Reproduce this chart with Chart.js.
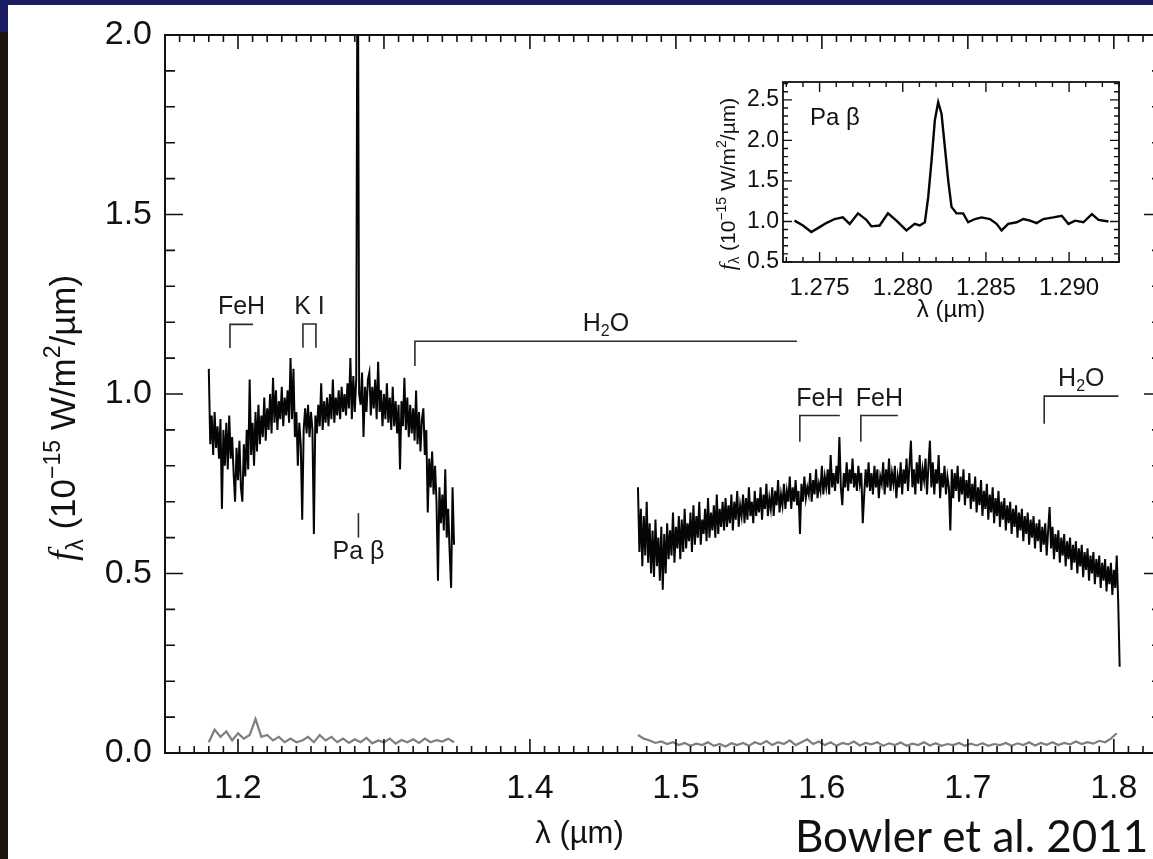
<!DOCTYPE html>
<html>
<head>
<meta charset="utf-8">
<script src="https://cdn.jsdelivr.net/npm/chart.js@4.4.1/dist/chart.umd.min.js"></script>
<style>
  html, body { margin: 0; padding: 0; background: #fff; overflow: hidden; width: 1153px; height: 859px; }
  #wrap { position: relative; width: 1153px; height: 859px; overflow: hidden; background: #fff; }
  #main { position: absolute; left: 0; top: 0; }
  #inset { position: absolute; left: 700px; top: 60px; }
  .bar { position: absolute; }
  #credit { position: absolute; left: 795px; top: 813px; font-family: Lato, "Open Sans", sans-serif;
            font-size: 44px; line-height: 1; color: #111; white-space: nowrap; }
</style>
</head>
<body>
<div id="wrap">
  <canvas id="main" width="1175" height="859"></canvas>
  <canvas id="inset" width="440" height="280"></canvas>
  <div class="bar" style="left:0;top:0;width:1153px;height:5px;background:#1b1c66"></div>
  <div class="bar" style="left:0;top:0;width:8px;height:32px;background:#1b1c66"></div>
  <div class="bar" style="left:0;top:32px;width:8px;height:827px;background:#1d1310"></div>
  <div id="credit">Bowler et al. 2011</div>
</div>
<script>
// ---------------- spectrum values (flux in 1e-15 W/m^2/um) ----------------
const jBandStart = 1.180;          // first J-band sample, um
const hBandStart = 1.474;          // first H-band sample, um
const fluxStep = 0.001;            // sampling of the flux arrays, um
const noiseStep = 0.004;           // sampling of the uncertainty arrays, um

const jBandFlux = [
  1.07, 0.86, 0.94, 0.83, 0.95, 0.85, 0.91, 0.82, 0.93, 0.68,
  0.90, 0.80, 0.92, 0.79, 0.94, 0.82, 0.88, 0.78, 0.70, 0.85,
  0.76, 0.87, 0.74, 0.70, 0.86, 0.77, 0.90, 0.79, 1.04, 0.83,
  0.92, 0.80, 0.95, 0.84, 0.97, 0.86, 0.94, 0.88, 0.99, 0.87,
  0.96, 0.90, 1.00, 0.89, 1.045, 0.92, 1.01, 0.90, 0.98, 0.93,
  1.02, 0.91, 0.99, 0.94, 1.01, 0.92, 1.10, 0.93, 1.07, 0.88,
  0.95, 0.80, 0.92, 0.86, 0.65, 0.90, 0.96, 0.89, 0.97, 0.88,
  0.95, 0.90, 0.61, 0.94, 0.89, 0.97, 0.91, 1.03, 0.90, 0.98,
  0.92, 0.99, 0.91, 1.00, 0.93, 1.04, 0.92, 0.99, 0.94, 1.01,
  0.93, 1.02, 0.95, 1.00, 0.94, 1.03, 0.96, 1.10, 0.93, 1.05,
  0.95, 1.04, 2.50, 1.00, 0.97, 1.06, 0.88, 1.02, 0.95, 1.04,
  1.06, 0.94, 1.02, 0.96, 1.04, 0.93, 1.09, 0.95, 1.01, 0.91,
  1.00, 0.93, 1.03, 0.92, 0.99, 0.90, 1.02, 0.91, 0.98, 0.89,
  0.97, 0.79, 0.98, 0.91, 1.045, 0.90, 0.99, 0.88, 0.97, 0.89,
  0.96, 0.87, 1.01, 0.86, 0.95, 0.84, 0.93, 0.96, 0.83, 0.90,
  0.67, 0.82, 0.74, 0.84, 0.72, 0.80, 0.70, 0.48, 0.74, 0.64,
  0.72, 0.62, 0.79, 0.60, 0.68, 0.56, 0.46, 0.74, 0.58
];

const hBandFlux = [
  0.74, 0.56, 0.68, 0.52, 0.66, 0.55, 0.70, 0.53, 0.64, 0.50,
  0.62, 0.49, 0.65, 0.52, 0.60, 0.48, 0.63, 0.455, 0.61, 0.50,
  0.64, 0.54, 0.62, 0.55, 0.67, 0.53, 0.63, 0.57, 0.66, 0.54,
  0.65, 0.56, 0.68, 0.57, 0.64, 0.59, 0.67, 0.56, 0.69, 0.58,
  0.66, 0.60, 0.70, 0.58, 0.65, 0.61, 0.68, 0.59, 0.71, 0.60,
  0.67, 0.62, 0.69, 0.60, 0.72, 0.61, 0.68, 0.63, 0.70, 0.62,
  0.71, 0.63, 0.69, 0.64, 0.72, 0.62, 0.70, 0.65, 0.73, 0.63,
  0.69, 0.66, 0.72, 0.64, 0.71, 0.65, 0.74, 0.66, 0.70, 0.64,
  0.73, 0.66, 0.71, 0.67, 0.74, 0.65, 0.72, 0.68, 0.75, 0.66,
  0.71, 0.68, 0.74, 0.66, 0.73, 0.69, 0.76, 0.67, 0.72, 0.69,
  0.75, 0.68, 0.73, 0.70, 0.77, 0.68, 0.74, 0.70, 0.76, 0.69,
  0.73, 0.61, 0.75, 0.70, 0.77, 0.71, 0.74, 0.72, 0.78, 0.70,
  0.76, 0.72, 0.79, 0.71, 0.75, 0.73, 0.80, 0.72, 0.77, 0.74,
  0.79, 0.72, 0.83, 0.74, 0.78, 0.73, 0.80, 0.75, 0.88, 0.74,
  0.69, 0.78, 0.74, 0.81, 0.73, 0.79, 0.75, 0.82, 0.74, 0.78,
  0.73, 0.80, 0.75, 0.78, 0.64, 0.72, 0.79, 0.74, 0.81, 0.73,
  0.78, 0.72, 0.80, 0.74, 0.79, 0.71, 0.77, 0.75, 0.81, 0.72,
  0.79, 0.74, 0.82, 0.73, 0.78, 0.75, 0.80, 0.71, 0.77, 0.74,
  0.81, 0.72, 0.79, 0.75, 0.82, 0.73, 0.80, 0.87, 0.74, 0.79,
  0.72, 0.81, 0.75, 0.83, 0.73, 0.79, 0.76, 0.82, 0.72, 0.80,
  0.87, 0.74, 0.81, 0.72, 0.79, 0.75, 0.83, 0.71, 0.78, 0.74,
  0.80, 0.72, 0.77, 0.74, 0.62, 0.79, 0.71, 0.78, 0.73, 0.80,
  0.70, 0.77, 0.72, 0.79, 0.69, 0.76, 0.71, 0.78, 0.68, 0.75,
  0.70, 0.77, 0.67, 0.74, 0.69, 0.76, 0.66, 0.73, 0.68, 0.75,
  0.65, 0.72, 0.67, 0.74, 0.64, 0.71, 0.66, 0.73, 0.63, 0.70,
  0.65, 0.71, 0.62, 0.69, 0.64, 0.70, 0.61, 0.68, 0.63, 0.69,
  0.60, 0.67, 0.62, 0.68, 0.59, 0.66, 0.61, 0.67, 0.58, 0.65,
  0.60, 0.66, 0.57, 0.64, 0.59, 0.65, 0.56, 0.63, 0.58, 0.64,
  0.55, 0.62, 0.685, 0.57, 0.63, 0.54, 0.61, 0.56, 0.62, 0.53,
  0.60, 0.55, 0.61, 0.52, 0.59, 0.54, 0.60, 0.51, 0.58, 0.53,
  0.59, 0.50, 0.57, 0.52, 0.58, 0.49, 0.56, 0.51, 0.57, 0.48,
  0.55, 0.50, 0.56, 0.47, 0.54, 0.49, 0.55, 0.46, 0.53, 0.48,
  0.54, 0.45, 0.52, 0.47, 0.53, 0.44, 0.51, 0.46, 0.55, 0.42,
  0.24
];

const jBandNoise = [
  0.030, 0.065, 0.045, 0.060, 0.035, 0.055, 0.040, 0.050, 0.095, 0.045,
  0.050, 0.035, 0.045, 0.030, 0.040, 0.030, 0.035, 0.045, 0.030, 0.050,
  0.035, 0.045, 0.030, 0.040, 0.028, 0.038, 0.030, 0.042, 0.027, 0.035,
  0.030, 0.040, 0.026, 0.036, 0.030, 0.038, 0.028, 0.040, 0.030, 0.036,
  0.032, 0.040, 0.030
];

const hBandNoise = [
  0.050, 0.040, 0.035, 0.028, 0.032, 0.025, 0.030, 0.022, 0.028, 0.020,
  0.026, 0.022, 0.030, 0.020, 0.025, 0.018, 0.027, 0.022, 0.028, 0.020,
  0.030, 0.024, 0.033, 0.022, 0.030, 0.025, 0.035, 0.022, 0.030, 0.038,
  0.025, 0.032, 0.022, 0.030, 0.020, 0.028, 0.024, 0.032, 0.021, 0.028,
  0.024, 0.030, 0.020, 0.027, 0.022, 0.029, 0.020, 0.026, 0.022, 0.030,
  0.021, 0.027, 0.020, 0.025, 0.022, 0.028, 0.020, 0.026, 0.021, 0.027,
  0.020, 0.025, 0.022, 0.028, 0.020, 0.027, 0.022, 0.030, 0.021, 0.028,
  0.023, 0.030, 0.022, 0.028, 0.024, 0.032, 0.025, 0.030, 0.026, 0.034,
  0.030, 0.040, 0.055
];

// Pa beta line profile around 1.282 um
const insetWave = [
  1.27349, 1.27400, 1.27450, 1.27500, 1.27540, 1.27590, 1.27640, 1.27681, 1.27731, 1.27781,
  1.27811, 1.27861, 1.27911, 1.27962, 1.28022, 1.28072, 1.28102, 1.28133, 1.28153, 1.28173,
  1.28193, 1.28213, 1.28233, 1.28253, 1.28273, 1.28293, 1.28323, 1.28363, 1.28393, 1.28434,
  1.28474, 1.28524, 1.28564, 1.28594, 1.28634, 1.28685, 1.28725, 1.28765, 1.28805, 1.28845,
  1.28905, 1.28956, 1.28996, 1.29036, 1.29086, 1.29137, 1.29177, 1.29237
];
const insetFlux = [
  1.01, 0.95, 0.87, 0.93, 0.98, 1.03, 1.05, 0.97, 1.10, 1.02,
  0.94, 0.95, 1.10, 1.01, 0.89, 0.97, 0.95, 0.99, 1.30, 1.75,
  2.25, 2.47, 2.33, 1.92, 1.51, 1.18, 1.10, 1.10, 0.99, 1.03,
  1.05, 1.03, 0.97, 0.89, 0.97, 0.99, 1.03, 1.01, 0.98, 1.03,
  1.05, 1.07, 0.97, 1.01, 0.99, 1.09, 1.02, 1.00
];

// ---------------- axis tick labels ----------------
const xTickLabels = ['1.2', '1.3', '1.4', '1.5', '1.6', '1.7', '1.8'];
const yTickLabels = ['0.0', '0.5', '1.0', '1.5', '2.0'];
const insetXTickLabels = ['1.275', '1.280', '1.285', '1.290'];
const insetYTickLabels = ['0.5', '1.0', '1.5', '2.0', '2.5'];

// ---------------- absorption features (um, flux level of the bracket) ----------------
const featureNames    = ['FeH', 'K I', 'H₂O', 'FeH', 'FeH', 'H₂O'];
const featureFrom     = [1.1945, 1.2445, 1.3212, 1.5849, 1.6267, 1.7523];
const featureTo       = [1.2103, 1.2534, 1.5829, 1.6123, 1.6521, 1.8031];
const featureTop      = [1.194, 1.195, 1.147, 0.940, 0.940, 0.994];
const featureBottom   = [1.128, 1.129, 1.078, 0.867, 0.867, 0.917];
const featureBothLegs = [false, true, false, false, false, false];
const paBetaMark = { name: 'Pa β', wave: 1.2825, top: 0.668, bottom: 0.600 };

// ---------------- helpers ----------------
const SANS = '"Liberation Sans", Arial, Helvetica, sans-serif';
const SERIF = '"Liberation Serif", "Times New Roman", serif';
const INK = '#111';

function sampled(start, step, values) {
  return values.map((v, i) => ({ x: +(start + i * step).toFixed(4), y: v }));
}
function labelFor(labels, v, tol) {
  const hit = labels.find(l => Math.abs(parseFloat(l) - v) < tol);
  return hit === undefined ? '' : hit;
}
function stepTicks(step, digits) {
  return scale => {
    const out = [];
    const k0 = Math.ceil(scale.min / step - 1e-6), k1 = Math.floor(scale.max / step + 1e-6);
    for (let k = k0; k <= k1; k++) out.push({ value: +(k * step).toFixed(digits) });
    scale.ticks = out;
  };
}
// text runs with sub/superscripts, optionally rotated to read bottom-to-top
function drawRich(ctx, parts, cx, cy, vertical, size) {
  ctx.save();
  ctx.translate(cx, cy);
  if (vertical) ctx.rotate(-Math.PI / 2);
  let w = 0;
  parts.forEach(p => { ctx.font = p.font; p.w = ctx.measureText(p.text).width; w += p.w; });
  let x = -w / 2;
  ctx.textAlign = 'left';
  ctx.textBaseline = 'alphabetic';
  parts.forEach(p => { ctx.font = p.font; ctx.fillText(p.text, x, size * 0.36 + (p.dy || 0)); x += p.w; });
  ctx.restore();
}
function fluxTitle(size, sub) {
  return [
    { text: 'f', font: `italic ${size + 2}px ${SERIF}` },
    { text: 'λ', font: `${sub}px ${SANS}`, dy: sub * 0.35 },
    { text: ' (10', font: `${size}px ${SANS}` },
    { text: '−15', font: `${sub}px ${SANS}`, dy: -size * 0.42 },
    { text: ' W/m', font: `${size}px ${SANS}` },
    { text: '2', font: `${sub}px ${SANS}`, dy: -size * 0.42 },
    { text: '/µm)', font: `${size}px ${SANS}` }
  ];
}

// inward tick marks on all four sides plus the frame
const inwardTicks = {
  id: 'inwardTicks',
  afterDatasetsDraw(chart, args, opts) {
    const ctx = chart.ctx, a = chart.chartArea;
    ctx.save();
    ctx.strokeStyle = INK;
    ctx.lineWidth = opts.tickWidth;
    ctx.lineCap = 'butt';
    opts.axes.forEach(spec => {
      const s = chart.scales[spec.id];
      s.ticks.forEach(t => {
        const p = s.getPixelForValue(t.value);
        const len = labelFor(spec.labels, t.value, spec.tol) !== '' ? spec.major : spec.minor;
        ctx.beginPath();
        if (s.isHorizontal()) {
          ctx.moveTo(p, a.bottom); ctx.lineTo(p, a.bottom - len);
          ctx.moveTo(p, a.top); ctx.lineTo(p, a.top + len);
        } else {
          ctx.moveTo(a.left, p); ctx.lineTo(a.left + len, p);
          ctx.moveTo(a.right, p); ctx.lineTo(a.right - len, p);
        }
        ctx.stroke();
      });
    });
    ctx.lineWidth = opts.frameWidth;
    ctx.strokeRect(a.left, a.top, a.right - a.left, a.bottom - a.top);
    ctx.restore();
  }
};

// axis titles and free text placed relative to the plot area
const axisText = {
  id: 'axisText',
  afterDraw(chart, args, opts) {
    const ctx = chart.ctx, a = chart.chartArea;
    ctx.save();
    ctx.fillStyle = INK;
    drawRich(ctx, opts.yTitle, opts.yTitleX, (a.top + a.bottom) / 2 + opts.yTitleShift, true, opts.yTitleSize);
    drawRich(ctx, opts.xTitle, (a.left + a.right) / 2 + opts.xTitleShift, opts.xTitleY, false, opts.xTitleSize);
    (opts.notes || []).forEach(n => {
      ctx.font = n.font; ctx.textAlign = 'left'; ctx.textBaseline = 'alphabetic';
      ctx.fillText(n.text, a.left + n.dx, a.top + n.dy);
    });
    ctx.restore();
  }
};

// feature names above their brackets
const featureLabels = {
  id: 'featureLabels',
  afterDatasetsDraw(chart) {
    const xs = chart.scales.x, ys = chart.scales.y, ctx = chart.ctx;
    ctx.save();
    ctx.fillStyle = '#1a1a1a';
    ctx.textBaseline = 'alphabetic';
    featureNames.forEach((name, i) => {
      const cx = xs.getPixelForValue((featureFrom[i] + featureTo[i]) / 2);
      const by = ys.getPixelForValue(featureTop[i]) - 10;
      const pieces = name.split('₂');
      if (pieces.length === 2) {
        const parts = [
          { text: pieces[0], font: `25px ${SANS}`, dy: 0 },
          { text: '2', font: `16px ${SANS}`, dy: 5 },
          { text: pieces[1], font: `25px ${SANS}`, dy: 0 }
        ];
        let w = 0;
        parts.forEach(p => { ctx.font = p.font; p.w = ctx.measureText(p.text).width; w += p.w; });
        let x = cx - w / 2;
        ctx.textAlign = 'left';
        parts.forEach(p => { ctx.font = p.font; ctx.fillText(p.text, x, by + p.dy); x += p.w; });
      } else {
        ctx.font = `25px ${SANS}`;
        ctx.textAlign = 'center';
        ctx.fillText(name, cx, by);
      }
    });
    ctx.font = `25px ${SANS}`;
    ctx.textAlign = 'center';
    ctx.textBaseline = 'top';
    ctx.fillText(paBetaMark.name, xs.getPixelForValue(paBetaMark.wave), ys.getPixelForValue(paBetaMark.bottom) + 2);
    ctx.restore();
  }
};

Chart.defaults.font.family = SANS;
Chart.defaults.color = INK;

// ---------------- main spectrum ----------------
const bracketSets = featureNames.map((n, i) => {
  const pts = [
    { x: featureFrom[i], y: featureBottom[i] },
    { x: featureFrom[i], y: featureTop[i] },
    { x: featureTo[i], y: featureTop[i] }
  ];
  if (featureBothLegs[i]) pts.push({ x: featureTo[i], y: featureBottom[i] });
  return { data: pts, borderColor: '#2b2b2b', borderWidth: 1.6, pointRadius: 0, tension: 0 };
});
bracketSets.push({
  data: [{ x: paBetaMark.wave, y: paBetaMark.bottom }, { x: paBetaMark.wave, y: paBetaMark.top }],
  borderColor: '#2b2b2b', borderWidth: 1.6, pointRadius: 0
});

const spectrumStyle = { borderColor: '#050505', borderWidth: 2, pointRadius: 0, tension: 0 };
const noiseStyle = { borderColor: '#7e7e7e', borderWidth: 2.2, pointRadius: 0, tension: 0 };

new Chart(document.getElementById('main'), {
  type: 'line',
  data: {
    datasets: [
      { data: sampled(jBandStart, noiseStep, jBandNoise), ...noiseStyle },
      { data: sampled(hBandStart, noiseStep, hBandNoise), ...noiseStyle },
      { data: sampled(jBandStart, fluxStep, jBandFlux), ...spectrumStyle },
      { data: sampled(hBandStart, fluxStep, hBandFlux), ...spectrumStyle },
      ...bracketSets
    ]
  },
  options: {
    responsive: false,
    animation: false,
    events: [],
    layout: { padding: { left: 0, right: 13, top: 35, bottom: 0 } },
    plugins: {
      legend: { display: false },
      tooltip: { enabled: false },
      inwardTicks: {
        tickWidth: 1.6, frameWidth: 2,
        axes: [
          { id: 'x', labels: xTickLabels, tol: 1e-4, major: 14, minor: 7 },
          { id: 'y', labels: yTickLabels, tol: 1e-4, major: 18, minor: 10 }
        ]
      },
      axisText: {
        yTitle: fluxTitle(35, 23), yTitleX: 62, yTitleShift: 24, yTitleSize: 35,
        xTitle: [{ text: 'λ (µm)', font: `31px ${SANS}` }], xTitleShift: -84, xTitleY: 832, xTitleSize: 31
      }
    },
    scales: {
      x: {
        type: 'linear', min: 1.15, max: 1.833,
        afterBuildTicks: stepTicks(0.01, 2),
        afterFit: s => { s.height = 106; },
        grid: { display: false, drawTicks: false },
        border: { display: false },
        ticks: {
          autoSkip: false, maxRotation: 0, padding: 15,
          font: { size: 34 }, color: INK,
          callback: v => labelFor(xTickLabels, v, 1e-4)
        }
      },
      y: {
        type: 'linear', min: 0, max: 2.0,
        afterBuildTicks: stepTicks(0.1, 1),
        afterFit: s => { s.width = 165; },
        grid: { display: false, drawTicks: false },
        border: { display: false },
        ticks: {
          autoSkip: false, padding: 13,
          font: { size: 34 }, color: INK,
          callback: v => labelFor(yTickLabels, v, 1e-4)
        }
      }
    }
  },
  plugins: [inwardTicks, featureLabels, axisText]
});

// ---------------- Pa beta inset ----------------
new Chart(document.getElementById('inset'), {
  type: 'line',
  data: {
    datasets: [{
      data: insetWave.map((w, i) => ({ x: w, y: insetFlux[i] })),
      borderColor: '#050505', borderWidth: 2.4, pointRadius: 0, tension: 0
    }]
  },
  options: {
    responsive: false,
    animation: false,
    events: [],
    layout: { padding: { left: 0, right: 21, top: 22, bottom: 0 } },
    plugins: {
      legend: { display: false },
      tooltip: { enabled: false },
      inwardTicks: {
        tickWidth: 1.4, frameWidth: 1.8,
        axes: [
          { id: 'x', labels: insetXTickLabels, tol: 1e-5, major: 10, minor: 5 },
          { id: 'y', labels: insetYTickLabels, tol: 1e-4, major: 9, minor: 5 }
        ]
      },
      axisText: {
        yTitle: fluxTitle(21, 14), yTitleX: 27, yTitleShift: 12, yTitleSize: 21,
        xTitle: [{ text: 'λ (µm)', font: `24px ${SANS}` }], xTitleShift: 0, xTitleY: 248, xTitleSize: 24,
        notes: [{ text: 'Pa β', font: `24px ${SANS}`, dx: 27, dy: 43 }]
      }
    },
    scales: {
      x: {
        type: 'linear', min: 1.2728, max: 1.2930,
        afterBuildTicks: stepTicks(0.001, 3),
        afterFit: s => { s.height = 78; },
        grid: { display: false, drawTicks: false },
        border: { display: false },
        ticks: {
          autoSkip: false, maxRotation: 0, padding: 12,
          font: { size: 24 }, color: INK,
          callback: v => labelFor(insetXTickLabels, v, 1e-5)
        }
      },
      y: {
        type: 'linear', min: 0.5, max: 2.72,
        afterBuildTicks: stepTicks(0.1, 1),
        afterFit: s => { s.width = 83; },
        grid: { display: false, drawTicks: false },
        border: { display: false },
        ticks: {
          autoSkip: false, padding: 4,
          font: { size: 23 }, color: INK,
          callback: v => labelFor(insetYTickLabels, v, 1e-4)
        }
      }
    }
  },
  plugins: [inwardTicks, axisText]
});
</script>
</body>
</html>
